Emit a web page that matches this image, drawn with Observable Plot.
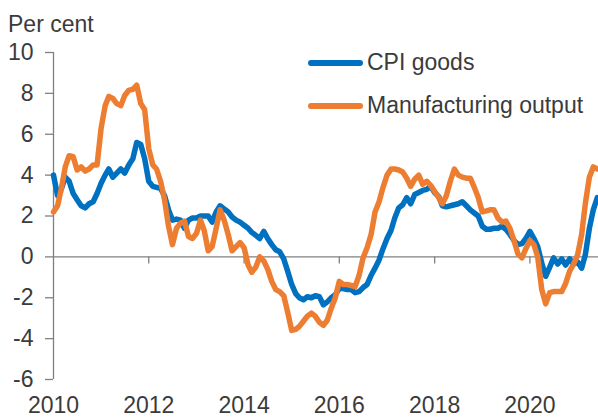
<!DOCTYPE html>
<html><head><meta charset="utf-8">
<script src="https://cdn.jsdelivr.net/npm/d3@7"></script>
<script src="https://cdn.jsdelivr.net/npm/@observablehq/plot@0.6"></script>
<style>
body{margin:0;background:#fff;font-family:"Liberation Sans",Arial,sans-serif;}
#wrap{position:relative;width:598px;height:418px;overflow:hidden;}
.t{position:absolute;font-size:23px;line-height:23px;color:#3b3b3b;white-space:nowrap;}
.key{position:absolute;height:6px;width:55px;border-radius:3px;}
</style></head><body>
<div id="wrap"></div>
<script>
const startMonth = "2010-01-01";
const endDomain = "2021-06-10";
const yLabel = "Per cent";
const seriesNames = ["CPI goods", "Manufacturing output"];
const seriesColors = ["#0070C0", "#ED7D31"];
const yTicks = [-6, -4, -2, 0, 2, 4, 6, 8, 10];
const xTickYears = [2010, 2012, 2014, 2016, 2018, 2020];

const cpiGoods = [
  4.0, 3.0, 3.3, 3.9, 3.7, 3.1, 2.8, 2.5, 2.4, 2.6, 2.7, 3.1,
  3.6, 4.0, 4.3, 3.9, 4.1, 4.3, 4.1, 4.5, 4.8, 5.6, 5.5, 4.8,
  3.7, 3.45, 3.4, 3.35, 3.0, 2.3, 1.8, 1.85, 1.8, 1.4, 1.8, 1.9,
  1.9, 2.0, 2.0, 2.0, 1.7, 2.2, 2.5, 2.35, 2.2, 1.95, 1.8, 1.7,
  1.55, 1.4, 1.2, 1.05, 0.9, 1.25, 0.9, 0.6, 0.35, 0.25, -0.1, -0.7,
  -1.35, -1.8, -2.0, -2.1, -1.95, -2.0, -1.9, -1.95, -2.35, -2.2, -2.0, -1.85,
  -1.55, -1.55, -1.6, -1.6, -1.75, -1.7, -1.5, -1.35, -0.9, -0.55, -0.15, 0.4,
  0.9, 1.3, 1.9, 2.4, 2.55, 2.9, 2.6, 3.05, 3.15, 3.25, 3.3, 3.45,
  3.15, 2.95, 2.5, 2.45, 2.5, 2.55, 2.6, 2.7, 2.5, 2.3, 2.15, 2.0,
  1.5, 1.35, 1.35, 1.4, 1.4, 1.5, 1.35, 1.1, 0.8, 0.6, 0.65, 0.9,
  1.25, 0.9, 0.5, -0.3, -0.95, -0.5, -0.05, -0.35, -0.1, -0.4, -0.1, -0.35,
  -0.25, -0.55, 0.1, 1.4, 2.3, 2.9
];
const manufacturing = [
  2.2, 2.5, 3.3, 4.4, 4.95, 4.9, 4.25, 4.4, 4.2, 4.3, 4.5, 4.5,
  6.3, 7.4, 7.85, 7.75, 7.5, 7.4, 7.9, 8.15, 8.2, 8.4, 7.5, 7.2,
  5.3, 4.5, 4.3, 3.7, 2.8, 1.5, 0.6, 1.4, 1.65, 1.75, 1.0, 0.9,
  1.15, 1.8, 1.3, 0.3, 0.5, 1.4, 2.3, 1.8, 1.1, 0.3, 0.5, 0.7,
  0.45, -0.4, -0.75, -0.5, 0.0, -0.2, -0.6, -1.2, -1.6, -1.7, -1.9, -2.7,
  -3.6, -3.55, -3.4, -3.15, -2.9, -2.75, -2.9, -3.2, -3.35, -3.1, -2.5, -2.0,
  -1.2, -1.35, -1.35, -1.4, -1.45, -0.9, -0.05, 0.45, 1.1, 2.2, 2.7, 3.4,
  4.0, 4.3, 4.3, 4.25, 4.15, 3.85, 3.45, 3.8, 4.0, 3.55, 3.7, 3.5,
  3.2, 2.9, 2.6, 3.0, 3.7, 4.3, 4.0, 3.9, 3.85, 3.85, 3.4, 2.9,
  2.2, 2.25, 2.3, 2.3, 1.9, 1.7, 1.75, 1.4, 0.8, 0.15, -0.05, 0.4,
  0.8, 0.6, 0.0, -1.6, -2.3, -1.75, -1.7, -1.7, -1.7, -1.3, -0.7, -0.35,
  0.1, 1.1, 2.6, 3.9, 4.4, 4.3
];

const seriesValues = [cpiGoods, manufacturing];
const start = new Date(startMonth);
const rows = [];
seriesNames.forEach((name, s) => {
  seriesValues[s].forEach((v, i) => rows.push({date: d3.utcMonth.offset(start, i), value: v, series: name}));
});
const xDomain = [start, new Date(endDomain)];
const tickDates = xTickYears.map(y => new Date(Date.UTC(y, 0, 1)));
const axisColor = "#808080";
const textColor = "#3b3b3b";

const chart = Plot.plot({
  width: 598, height: 418,
  marginLeft: 53, marginRight: 0, marginTop: 52, marginBottom: 39,
  style: {fontFamily: "'Liberation Sans', Arial, sans-serif", fontSize: "23px", color: textColor, background: "white", overflow: "visible"},
  x: {type: "utc", domain: xDomain},
  y: {domain: [yTicks[0], yTicks[yTicks.length - 1]]},
  color: {domain: seriesNames, range: seriesColors},
  marks: [
    Plot.ruleY([0], {stroke: axisColor, strokeWidth: 1.3}),
    Plot.ruleX([xDomain[0]], {stroke: axisColor, strokeWidth: 1.3}),
    Plot.ruleX(tickDates.slice(1), {x: d => d, y1: 0, y2: 0, insetBottom: -7, stroke: axisColor, strokeWidth: 1.3}),
    Plot.axisY({ticks: yTicks, tickSize: 8, tickPadding: 12, tickFormat: d => String(d), stroke: axisColor, strokeWidth: 1.3, label: null}),
    Plot.axisX({ticks: tickDates, tickSize: 0, tickPadding: 17, tickFormat: d => String(d.getUTCFullYear()), label: null}),
    Plot.lineY(rows, {x: "date", y: "value", z: "series", stroke: "series", strokeWidth: 5.5, strokeLinejoin: "round"})
  ]
});
const wrap = document.getElementById("wrap");
wrap.appendChild(chart);

const title = document.createElement("div");
title.className = "t";
title.textContent = yLabel;
title.style.left = "8px"; title.style.top = "13px";
wrap.appendChild(title);

seriesNames.forEach((name, s) => {
  const key = document.createElement("div");
  key.className = "key";
  key.style.background = seriesColors[s];
  key.style.left = "308px";
  key.style.top = (60 + s * 42.5) + "px";
  wrap.appendChild(key);
  const lab = document.createElement("div");
  lab.className = "t";
  lab.textContent = name;
  lab.style.left = "367px";
  lab.style.top = (50.5 + s * 43) + "px";
  wrap.appendChild(lab);
});
</script>
</body></html>
